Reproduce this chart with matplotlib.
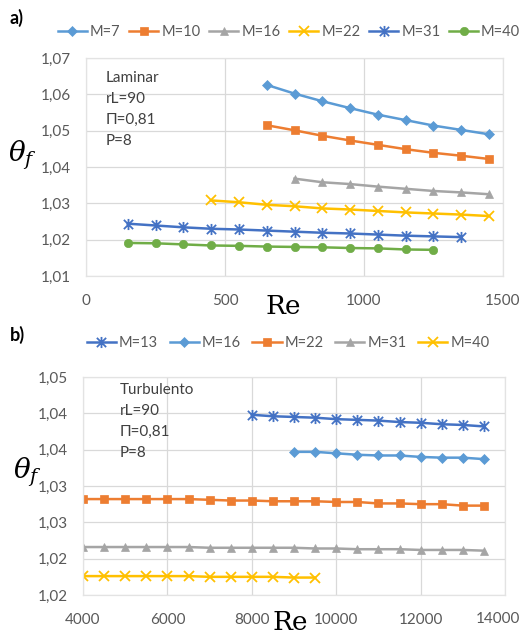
import numpy as np
import matplotlib
matplotlib.use('Agg')
import matplotlib.pyplot as plt
from matplotlib.ticker import FuncFormatter
from matplotlib.path import Path

plt.rcParams['font.family'] = ['Lato', 'DejaVu Sans']
plt.rcParams['mathtext.fontset'] = 'dejavuserif'

# ---- panel a) laminar ----
a_labels = ['M=7', 'M=10', 'M=16', 'M=22', 'M=31', 'M=40']
a_re = [
    [650, 750, 850, 950, 1050, 1150, 1250, 1350, 1450],
    [650, 750, 850, 950, 1050, 1150, 1250, 1350, 1450],
    [750, 850, 950, 1050, 1150, 1250, 1350, 1450],
    [450, 550, 650, 750, 850, 950, 1050, 1150, 1250, 1350, 1450],
    [150, 250, 350, 450, 550, 650, 750, 850, 950, 1050, 1150, 1250, 1350],
    [150, 250, 350, 450, 550, 650, 750, 850, 950, 1050, 1150, 1250],
]
a_theta = [
    [1.0626, 1.0602, 1.0581, 1.0562, 1.0544, 1.0529, 1.0514, 1.0502, 1.0490],
    [1.0515, 1.0501, 1.0486, 1.0473, 1.0461, 1.0449, 1.0439, 1.0431, 1.0422],
    [1.0368, 1.0358, 1.0353, 1.0346, 1.0340, 1.0334, 1.0330, 1.0325],
    [1.0308, 1.0303, 1.0296, 1.0292, 1.0286, 1.0283, 1.0279, 1.0275, 1.0272, 1.0269, 1.0265],
    [1.0244, 1.0239, 1.0234, 1.0230, 1.0228, 1.0225, 1.0222, 1.0219, 1.0217, 1.0214, 1.0211, 1.0209, 1.0207],
    [1.0191, 1.0190, 1.0187, 1.0184, 1.0183, 1.0181, 1.0180, 1.0179, 1.0177, 1.0176, 1.0173, 1.0172],
]
a_xticks = [0, 500, 1000, 1500]
a_yticks = [1.01, 1.02, 1.03, 1.04, 1.05, 1.06, 1.07]

# ---- panel b) turbulento ----
b_labels = ['M=13', 'M=16', 'M=22', 'M=31', 'M=40']
b_re = [
    list(range(8000, 14000, 500)),
    list(range(9000, 14000, 500)),
    list(range(4000, 14000, 500)),
    list(range(4000, 14000, 500)),
    list(range(4000, 10000, 500)),
]
b_theta = [
    [1.0398, 1.0396, 1.0395, 1.0394, 1.0392, 1.0391, 1.0390, 1.0388, 1.0387, 1.0385, 1.0384, 1.0382],
    [1.0347, 1.0347, 1.0345, 1.0343, 1.0342, 1.0342, 1.0340, 1.0339, 1.0339, 1.0337],
    [1.0282, 1.0282, 1.0282, 1.0282, 1.0282, 1.0282, 1.0281, 1.0280, 1.0280, 1.0279,
     1.0279, 1.0279, 1.0278, 1.0278, 1.0276, 1.0276, 1.0275, 1.0275, 1.0273, 1.0273],
    [1.0216, 1.0216, 1.0216, 1.0216, 1.0216, 1.0216, 1.0215, 1.0215, 1.0215, 1.0215,
     1.0215, 1.0214, 1.0214, 1.0213, 1.0213, 1.0213, 1.0212, 1.0212, 1.0212, 1.0211],
    [1.0176, 1.0176, 1.0176, 1.0176, 1.0176, 1.0176, 1.0175, 1.0175, 1.0175, 1.0175, 1.0174, 1.0174],
]
b_xticks = [4000, 6000, 8000, 10000, 12000, 14000]
b_yticks = [1.015, 1.020, 1.025, 1.030, 1.035, 1.040, 1.045]

# excel "star" marker = x with a vertical bar through it
star = Path([(-1, -1), (1, 1), (-1, 1), (1, -1), (0, -1.2), (0, 1.2)],
            [Path.MOVETO, Path.LINETO, Path.MOVETO, Path.LINETO, Path.MOVETO, Path.LINETO])

# excel-ish colours / markers
c_blue, c_orange, c_gray = '#5B9BD5', '#ED7D31', '#A5A5A5'
c_yellow, c_dblue, c_green = '#FFC000', '#4472C4', '#70AD47'
a_styles = [(c_blue, 'D', 5), (c_orange, 's', 6), (c_gray, '^', 6),
            (c_yellow, 'x', 7), (c_dblue, star, 8), (c_green, 'o', 6)]
b_styles = [(c_dblue, star, 8), (c_blue, 'D', 5), (c_orange, 's', 6),
            (c_gray, '^', 6), (c_yellow, 'x', 7)]

W, H = 521, 637
fig = plt.figure(figsize=(W / 100, H / 100), dpi=100)


def px_axes(x0, y0, x1, y1):
    return fig.add_axes([x0 / W, 1 - y1 / H, (x1 - x0) / W, (y1 - y0) / H])


def style_axes(ax):
    ax.grid(True, color='#d9d9d9', lw=0.9)
    ax.set_axisbelow(True)
    for s in ax.spines.values():
        s.set_color('#e3e3e3')
        s.set_linewidth(0.9)
    ax.tick_params(length=0, labelsize=11, labelcolor='#595959')
    ax.tick_params(axis='y', pad=11)
    ax.tick_params(axis='x', pad=13)


def draw_series(ax, xs_list, ys_list, labels, styles):
    hs = []
    for xs, ys, lab, (c, m, ms) in zip(xs_list, ys_list, labels, styles):
        line_marker = m is star or m == 'x'
        h, = ax.plot(xs, ys, color=c, marker=m, ms=ms, lw=1.8, label=lab,
                     mew=1.3 if line_marker else 0.5)
        hs.append(h)
    return hs


comma = FuncFormatter(lambda v, p: ('%.2f' % (v + 1e-9)).replace('.', ','))

# panel a
ax1 = px_axes(86, 58, 503, 276)
handles = draw_series(ax1, a_re, a_theta, a_labels, a_styles)
ax1.set_xlim(0, 1500)
ax1.set_ylim(1.01, 1.07)
ax1.set_xticks(a_xticks)
ax1.set_yticks(a_yticks)
ax1.yaxis.set_major_formatter(comma)
style_axes(ax1)
fig.legend(handles=handles, loc='center', bbox_to_anchor=(289 / W, 1 - 32 / H),
           ncol=6, frameon=False, fontsize=10.5, handlelength=2.0, handletextpad=0.2,
           columnspacing=0.6, labelcolor='#595959', borderpad=0)
for i, t in enumerate(['Laminar', 'rL=90', '\u03a0=0,81', 'P=8']):
    fig.text(106 / W, 1 - (78 + 21 * i) / H, t, fontsize=11, color='#404040', va='center')
fig.text(9 / W, 1 - 18 / H, 'a)', fontsize=13, fontweight='bold', va='center')
fig.text(283 / W, 1 - 307 / H, 'Re', fontsize=19, family='DejaVu Serif', ha='center', va='center')
fig.text(22 / W, 1 - 155 / H, r'$\theta_f$', fontsize=20, ha='center', va='center')

# panel b
ax2 = px_axes(83, 377, 505, 595)
handles = draw_series(ax2, b_re, b_theta, b_labels, b_styles)
ax2.set_xlim(4000, 14000)
ax2.set_ylim(1.015, 1.045)
ax2.set_xticks(b_xticks)
# last label would run off the figure edge -> hide it and put it in by hand
ax2.set_xticklabels([str(v) for v in b_xticks[:-1]] + [''])
ax2.set_yticks(b_yticks)
ax2.yaxis.set_major_formatter(comma)
style_axes(ax2)
fig.text(520 / W, 1 - 619 / H, str(b_xticks[-1]), fontsize=11, color='#595959',
         ha='right', va='center')
fig.legend(handles=handles, loc='center', bbox_to_anchor=(288 / W, 1 - 343 / H),
           ncol=5, frameon=False, fontsize=10.5, handlelength=2.0, handletextpad=0.2,
           columnspacing=0.8, labelcolor='#595959', borderpad=0)
for i, t in enumerate(['Turbulento', 'rL=90', '\u03a0=0,81', 'P=8']):
    fig.text(120 / W, 1 - (390 + 21 * i) / H, t, fontsize=11, color='#404040', va='center')
fig.text(10 / W, 1 - 335 / H, 'b)', fontsize=13, fontweight='bold', va='center')
fig.text(290 / W, 1 - 622 / H, 'Re', fontsize=19, family='DejaVu Serif', ha='center', va='center')
fig.text(27 / W, 1 - 472 / H, r'$\theta_f$', fontsize=20, ha='center', va='center')

fig.savefig('out.png', dpi=100)
